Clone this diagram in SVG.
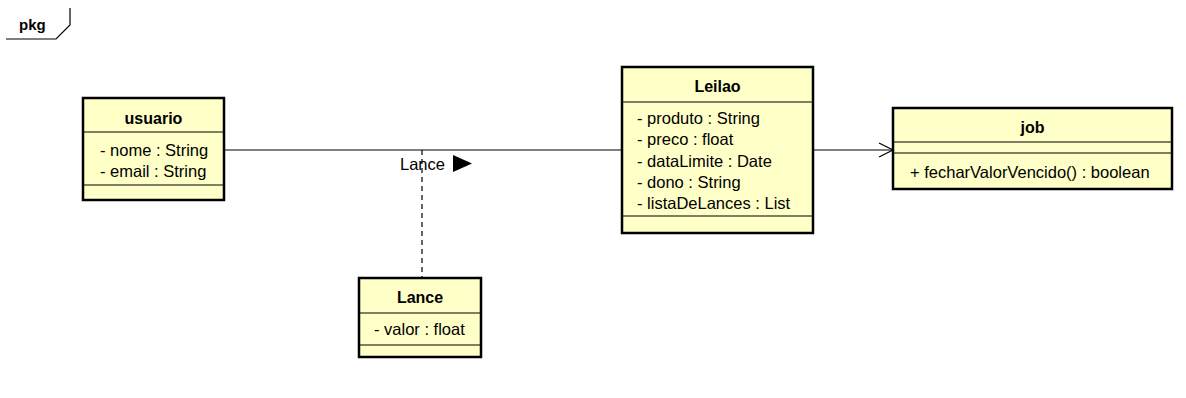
<svg xmlns="http://www.w3.org/2000/svg" width="1186" height="398" viewBox="0 0 1186 398">
<style>
text{font-family:"Liberation Sans",Arial,sans-serif;font-size:16.5px;fill:#000}
.t{font-weight:bold;font-size:16px;text-anchor:middle}
.box{fill:#ffffc8;stroke:#000;stroke-width:2.5}
.div{stroke:#000;stroke-width:1.2}
.ln{stroke:#000;stroke-width:1.2;fill:none}
</style>
<rect width="1186" height="398" fill="#fff"/>
<g id="frame">
<text x="19" y="30" style="font-weight:bold;font-size:15px">pkg</text>
<path class="ln" d="M70 8 V25 L56 39 H6"/>
</g>
<g id="connectors">
<line class="ln" x1="224" y1="150" x2="622" y2="150"/>
<line class="ln" x1="422" y1="150" x2="422" y2="278" stroke-dasharray="5,4"/>
<text x="400" y="170">Lance</text>
<polygon points="453,155 472,163.5 453,172" fill="#000"/>
<line class="ln" x1="813" y1="150" x2="893" y2="150"/>
<path class="ln" d="M879 143 L893 150 L879 157"/>
</g>
<g id="usuario">
<rect class="box" x="83" y="98" width="141" height="102"/>
<line class="div" x1="83" y1="132" x2="224" y2="132"/>
<line class="div" x1="83" y1="185" x2="224" y2="185"/>
<text class="t" x="153.5" y="124">usuario</text>
<text x="100" y="156">- nome : String</text>
<text x="100" y="177">- email : String</text>
</g>
<g id="Lance">
<rect class="box" x="359" y="278" width="122" height="79"/>
<line class="div" x1="359" y1="313" x2="481" y2="313"/>
<line class="div" x1="359" y1="345" x2="481" y2="345"/>
<text class="t" x="420" y="303">Lance</text>
<text x="374" y="335">- valor : float</text>
</g>
<g id="Leilao">
<rect class="box" x="622" y="67" width="191" height="166"/>
<line class="div" x1="622" y1="102" x2="813" y2="102"/>
<line class="div" x1="622" y1="216" x2="813" y2="216"/>
<text class="t" x="717.5" y="92">Leilao</text>
<text x="637" y="123.5">- produto : String</text>
<text x="637" y="145">- preco : float</text>
<text x="637" y="166.5">- dataLimite : Date</text>
<text x="637" y="188">- dono : String</text>
<text x="637" y="209">- listaDeLances : List</text>
</g>
<g id="job">
<rect class="box" x="893" y="108" width="279" height="81"/>
<line class="div" x1="893" y1="142" x2="1172" y2="142"/>
<line class="div" x1="893" y1="153" x2="1172" y2="153"/>
<text class="t" x="1032.5" y="133">job</text>
<text x="910" y="178">+ fecharValorVencido() : boolean</text>
</g>
</svg>
